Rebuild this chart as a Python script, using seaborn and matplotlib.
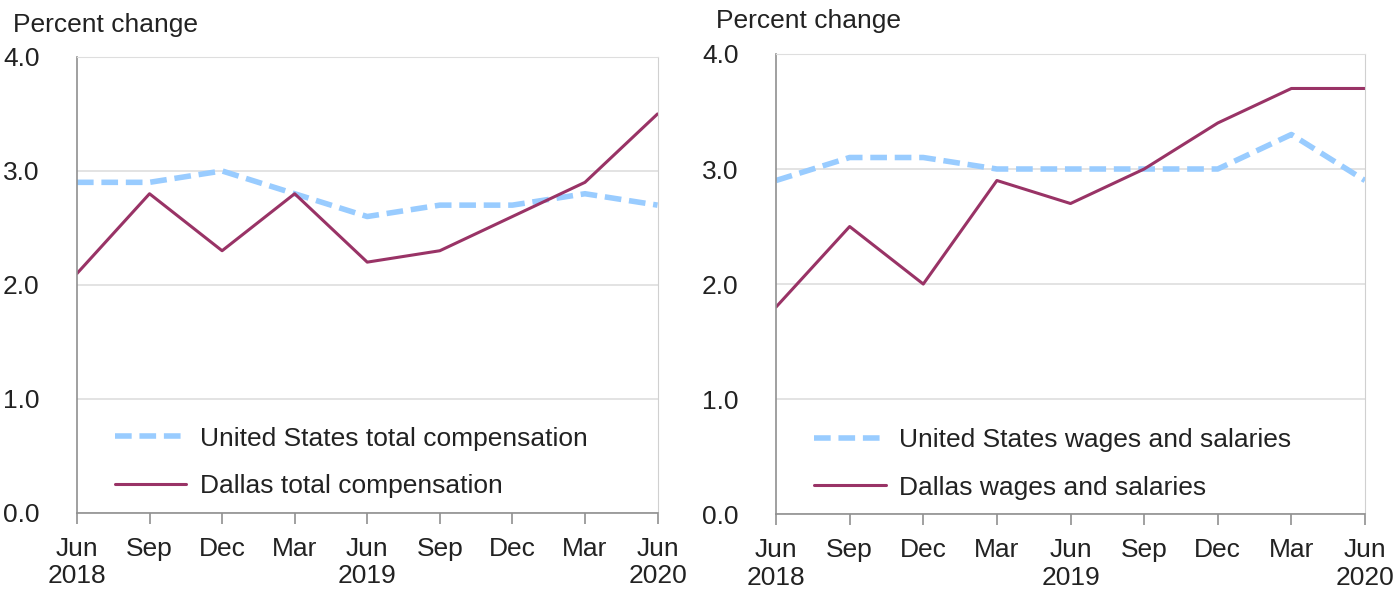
import pandas as pd
import matplotlib
matplotlib.use('Agg')
import matplotlib.pyplot as plt
import seaborn as sns

# data
quarters = ['Jun\n2018', 'Sep', 'Dec', 'Mar', 'Jun\n2019', 'Sep', 'Dec', 'Mar', 'Jun\n2020']
us_total_comp = [2.9, 2.9, 3.0, 2.8, 2.6, 2.7, 2.7, 2.8, 2.7]
dallas_total_comp = [2.1, 2.8, 2.3, 2.8, 2.2, 2.3, 2.6, 2.9, 3.5]
us_wages = [2.9, 3.1, 3.1, 3.0, 3.0, 3.0, 3.0, 3.3, 2.9]
dallas_wages = [1.8, 2.5, 2.0, 2.9, 2.7, 3.0, 3.4, 3.7, 3.7]

US_COLOR = '#99CCFF'
DALLAS_COLOR = '#993366'
FS = 19

sns.set_style('white')
plt.rcParams['font.family'] = ['Liberation Sans', 'DejaVu Sans']

fig = plt.figure(figsize=(13.99, 5.93), dpi=100)
ax1 = fig.add_axes([0.055, 0.135, 0.415, 0.769])
ax2 = fig.add_axes([0.5547, 0.133, 0.421, 0.776])


def draw_panel(ax, us_vals, dallas_vals, us_label, dallas_label):
    df = pd.DataFrame({'pos': range(len(quarters)), 'us': us_vals, 'dallas': dallas_vals})
    sns.lineplot(data=df, x='pos', y='us', ax=ax, color=US_COLOR, linewidth=4,
                 linestyle=(0, (3, 1.4)), label=us_label)
    sns.lineplot(data=df, x='pos', y='dallas', ax=ax, color=DALLAS_COLOR, linewidth=2.2,
                 label=dallas_label)
    ax.set_xlim(0, len(quarters) - 1)
    ax.set_ylim(0, 4)
    ax.set_yticks([0, 1, 2, 3, 4])
    ax.set_yticklabels(['0.0', '1.0', '2.0', '3.0', '4.0'], fontsize=FS, color='#222222')
    ax.set_xticks(range(len(quarters)))
    ax.set_xticklabels(quarters, fontsize=FS, color='#222222', linespacing=1.2)
    ax.set_xlabel('')
    ax.set_ylabel('')
    ax.grid(True, axis='y', color='#dedede', linewidth=1.2)
    for side in ['left', 'bottom']:
        ax.spines[side].set_color('#909090')
        ax.spines[side].set_linewidth(1.2)
    ax.spines['right'].set_color('#d0d0d0')
    ax.spines['top'].set_color('#dedede')
    ax.tick_params(axis='x', direction='out', length=8, width=1.2, color='#909090', pad=9, bottom=True)
    ax.tick_params(axis='y', length=0, pad=27)
    leg = ax.legend(loc='lower left', bbox_to_anchor=(0.025, -0.02), frameon=False, fontsize=FS,
                    handlelength=2.7, handletextpad=0.5, labelspacing=0.9)
    for t in leg.get_texts():
        t.set_color('#222222')


draw_panel(ax1, us_total_comp, dallas_total_comp,
           'United States total compensation', 'Dallas total compensation')
draw_panel(ax2, us_wages, dallas_wages,
           'United States wages and salaries', 'Dallas wages and salaries')

fig.text(0.009, 0.957, 'Percent change', fontsize=FS, color='#222222', va='center')
fig.text(0.512, 0.964, 'Percent change', fontsize=FS, color='#222222', va='center')

plt.savefig('out.png', dpi=100)
plt.close()
